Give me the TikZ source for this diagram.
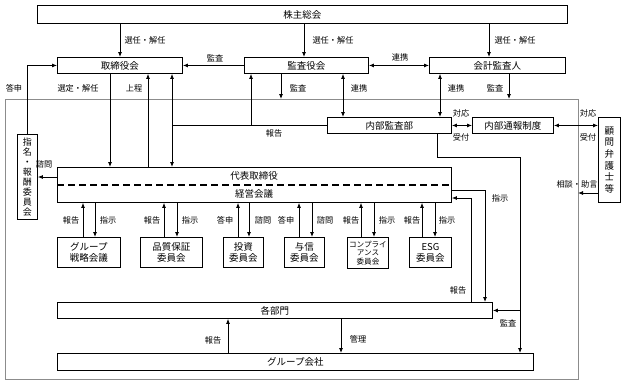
\documentclass[tikz,border=0pt]{standalone}
\usepackage{fontspec}
\setmainfont{Noto Sans CJK JP}
\usetikzlibrary{arrows.meta}
\begin{document}
\begin{tikzpicture}[x=1pt,y=-1pt,
 box/.style={draw, line width=0.9pt, inner sep=0pt, anchor=north west, font=\fontsize{9.5}{11}\selectfont, align=center},
 lbl/.style={font=\fontsize{8.2}{9}\selectfont, inner sep=0.5pt},
 con/.style={line width=0.8pt},
 arr/.style={con, -{Latex[length=5pt,width=4pt]}},
 darr/.style={con, {Latex[length=5pt,width=4pt]}-{Latex[length=5pt,width=4pt]}},
 frame/.style={draw=black!45, line width=0.8pt}
]
\useasboundingbox (0,0) rectangle (624,384);
% frame
\draw[frame] (5,99) rectangle (578,379);
\coordinate (ftop) at (0,99);
\coordinate (fright) at (578,0);
% boxes
\node[box, minimum width=530pt, minimum height=18pt] (kabu) at (37,5) {株主総会};
\node[box, minimum width=125pt, minimum height=16pt] (tori) at (57,57) {取締役会};
\node[box, minimum width=124pt, minimum height=16pt] (kansa) at (244,57) {監査役会};
\node[box, minimum width=136pt, minimum height=16pt] (kaikei) at (429,57) {会計監査人};
\node[box, minimum width=124pt, minimum height=16pt] (naibu) at (327,117) {内部監査部};
\node[box, minimum width=81pt, minimum height=16pt] (tsuho) at (472,117) {内部通報制度};
\node[box, minimum width=22pt, minimum height=85pt, font=\fontsize{9.5}{11.7}\selectfont] (komon) at (598,117) {顧\\問\\弁\\護\\士\\等};
\node[box, minimum width=20pt, minimum height=85pt, font=\fontsize{9}{10}\selectfont] (shimei) at (17,134) {指\\名\\・\\報\\酬\\委\\員\\会};
\node[box, minimum width=394pt, minimum height=35pt] (daihyo) at (57,167) {};
\node[font=\fontsize{9.5}{11}\selectfont, inner sep=0pt] (daihyoT) at (254,176) {代表取締役};
\node[font=\fontsize{9.5}{11}\selectfont, inner sep=0pt] (keiei) at (254,194) {経営会議};
\coordinate (ydash) at (0,185);
\draw[line width=1.5pt, dash pattern=on 7pt off 4pt] (daihyo.west |- ydash) -- (daihyo.east |- ydash);
% committees
\node[box, minimum width=63pt, minimum height=30pt] (g1) at (57,237) {グループ\\戦略会議};
\node[box, minimum width=62pt, minimum height=30pt] (g2) at (140,237) {品質保証\\委員会};
\node[box, minimum width=40pt, minimum height=30pt] (g3) at (223,237) {投資\\委員会};
\node[box, minimum width=40pt, minimum height=30pt] (g4) at (284,237) {与信\\委員会};
\node[box, minimum width=41pt, minimum height=31pt, font=\fontsize{7.6}{8.6}\selectfont] (g5) at (347,237) {コンプライ\\アンス\\委員会};
\node[box, minimum width=42pt, minimum height=30pt] (g6) at (409,237) {ESG\\委員会};
\node[box, minimum width=435pt, minimum height=16pt] (kakubu) at (57,302) {各部門};
\node[box, minimum width=476pt, minimum height=17pt] (group) at (57,353) {グループ会社};
% x positions
\foreach \n/\v in {v120/120,v304/304,v489/489,v110/110,v148/148,v172/172,v251/251,v281/281,v343/343,v440/440,v509/509,v437/437,v520/520,v485/485,v471/471,v228/228,v341/341,
 u1/83,d1/95,u2/164,d2/177,u3/238,d3/249,u4/299,d4/312,u5/361,d5/374,u6/422,d6/435}
  \coordinate (\n) at (\v,0);
\coordinate (y157) at (0,157);
\coordinate (y190) at (0,190);
\coordinate (y198) at (0,198);
\coordinate (y193) at (0,193);
\coordinate (y177) at (0,177);
% top level
\draw[arr] (v120 |- kabu.south) -- (v120 |- tori.north);
\draw[arr] (v304 |- kabu.south) -- (v304 |- kansa.north);
\draw[arr] (v489 |- kabu.south) -- (v489 |- kaikei.north);
\node[lbl] (l1) at (145,40) {選任・解任};
\node[lbl] (l2) at (333,40) {選任・解任};
\node[lbl] (l3) at (515,40) {選任・解任};
\draw[arr] (kansa.west) -- (tori.east);
\node[lbl] (l4) at (215,58) {監査};
\draw[darr] (kansa.east) -- (kaikei.west);
\node[lbl] (l5) at (400,57) {連携};
\draw[arr] (shimei.north) |- (tori.west);
\node[lbl] (l6) at (14,88) {答申};
\draw[arr] (v110 |- tori.south) -- (v110 |- daihyo.north);
\node[lbl] (l7) at (78,88) {選定・解任};
\draw[arr] (v148 |- daihyo.north) -- (v148 |- tori.south);
\node[lbl] (l8) at (134,88) {上程};
% internal audit report
\draw[con] (naibu.west) -- (v172 |- naibu.west);
\draw[arr] (v172 |- naibu.west) -- (v172 |- tori.south);
\draw[arr] (v172 |- naibu.west) -- (v172 |- daihyo.north);
\draw[arr] (v251 |- naibu.west) -- (v251 |- kansa.south);
\node[lbl] (l9) at (274,133) {報告};
\draw[arr] (v281 |- kansa.south) -- (v281 |- ftop);
\node[lbl] (l10) at (298,88) {監査};
\draw[darr] (v343 |- kansa.south) -- (v343 |- naibu.north);
\node[lbl] (l11) at (359,88) {連携};
\draw[darr] (v440 |- kaikei.south) -- (v440 |- naibu.north);
\node[lbl] (l12) at (456,88) {連携};
\draw[arr] (v509 |- kaikei.south) -- (v509 |- ftop);
\node[lbl] (l13) at (495,88) {監査};
\draw[darr] (naibu.east) -- (tsuho.west);
\node[lbl] (l14) at (461,113) {対応};
\node[lbl] (l15) at (461,137) {受付};
\draw[darr] (tsuho.east) -- (komon.west |- tsuho.east);
\node[lbl] (l16) at (588,113) {対応};
\node[lbl] (l17) at (588,137) {受付};
\draw[arr] (komon.west |- y193) -- (fright |- y193);
\node[lbl] (l18) at (577,184) {相談・助言};
% audit line to departments
\draw[arr] (v437 |- naibu.south) -- (v437 |- y157) -- (v520 |- y157) -- (v520 |- group.north);
\draw[arr] (v520 |- kakubu.east) -- (kakubu.east);
\node[lbl] (l19) at (508,323) {監査};
\draw[arr] (daihyo.east |- y190) -- (v485 |- y190) -- (v485 |- kakubu.north);
\node[lbl] (l20) at (500,198) {指示};
\draw[arr] (v471 |- kakubu.north) -- (v471 |- y198) -- (daihyo.east |- y198);
\node[lbl] (l21) at (458,290) {報告};
\draw[arr] (daihyo.west |- y177) -- (shimei.east |- y177);
\node[lbl] (l22) at (44,164) {諮問};
% committees arrows
\foreach \i in {1,...,6}{
  \draw[arr] (u\i |- g\i.north) -- (u\i |- daihyo.south);
  \draw[arr] (d\i |- daihyo.south) -- (d\i |- g\i.north);
}
\node[lbl] (c1a) at (71,220) {報告};
\node[lbl] (c1b) at (108,220) {指示};
\node[lbl] (c2a) at (152,220) {報告};
\node[lbl] (c2b) at (190,220) {指示};
\node[lbl] (c3a) at (225,220) {答申};
\node[lbl] (c3b) at (263,220) {諮問};
\node[lbl] (c4a) at (286,220) {答申};
\node[lbl] (c4b) at (325,220) {諮問};
\node[lbl] (c5a) at (351,220) {報告};
\node[lbl] (c5b) at (387,220) {指示};
\node[lbl] (c6a) at (412,220) {報告};
\node[lbl] (c6b) at (447,220) {指示};
% bottom
\draw[arr] (v228 |- group.north) -- (v228 |- kakubu.south);
\node[lbl] (l23) at (213,340) {報告};
\draw[arr] (v341 |- kakubu.south) -- (v341 |- group.north);
\node[lbl] (l24) at (358,339) {管理};
\end{tikzpicture}
\end{document}
